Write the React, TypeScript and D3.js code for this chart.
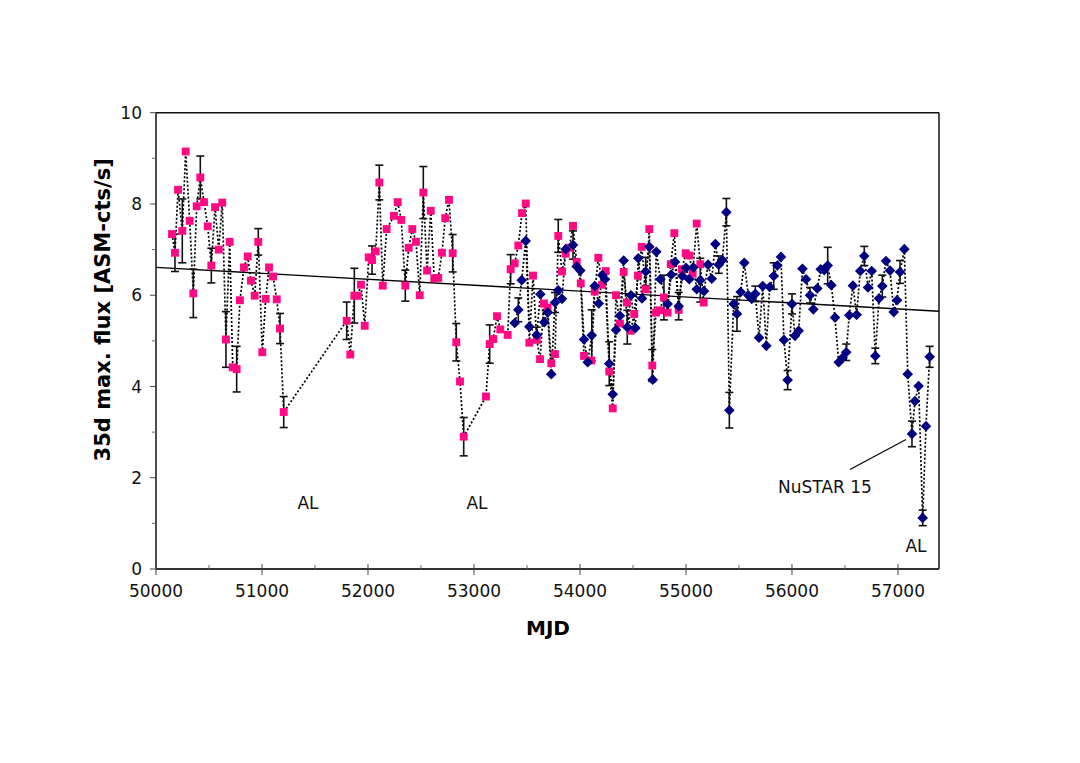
import React from "react";
import * as d3 from "d3";

// ---------- data ----------
const pinkMJD = [
  50151, 50179, 50208, 50248, 50280, 50318, 50352, 50384, 50418, 50453,
  50488, 50522, 50557, 50592, 50625, 50660, 50695, 50724, 50761, 50792,
  50830, 50865, 50896, 50931, 50965, 51003, 51035, 51066, 51104, 51139,
  51170, 51205, 51799, 51833, 51871, 51903, 51934, 51969, 52007, 52038,
  52073, 52107, 52139, 52176, 52245, 52280, 52314, 52352, 52384, 52418,
  52453, 52488, 52522, 52557, 52592, 52625, 52663, 52698, 52729, 52764,
  52799, 52833, 52868, 52903, 53113, 53148, 53182, 53217, 53248, 53318,
  53346, 53384, 53418, 53453, 53488, 53522, 53557, 53592, 53623, 53660,
  53695, 53729, 53764, 53795, 53830, 53865, 53899, 53934, 53969, 54007,
  54038, 54107, 54139, 54173, 54208, 54243, 54276, 54309, 54340, 54377,
  54412, 54443, 54478, 54512, 54547, 54582, 54620, 54654, 54682, 54717,
  54752, 54792, 54827, 54856, 54890, 54931, 54962, 54997, 55031, 55063,
  55101, 55135, 55167,
];
const pinkFlux = [
  7.34, 6.93, 8.31, 7.41, 9.15, 7.63, 6.04, 7.95, 8.58, 8.04,
  7.51, 6.65, 7.93, 7.0, 8.03, 5.03, 7.17, 4.42, 4.38, 5.89,
  6.61, 6.85, 6.32, 5.99, 7.17, 4.75, 5.92, 6.61, 6.41, 5.91,
  5.27, 3.44, 5.44, 4.7, 5.99, 5.99, 6.23, 5.33, 6.83, 6.77,
  6.96, 8.47, 6.21, 7.45, 7.74, 8.04, 7.65, 6.21, 7.04, 7.45,
  7.17, 6.0, 8.25, 6.54, 7.85, 6.37, 6.38, 6.93, 7.69, 8.09,
  6.92, 4.97, 4.11, 2.9, 3.78, 4.93, 5.04, 5.54, 5.25, 5.13,
  6.57, 6.7, 7.09, 7.8, 8.01, 4.96, 6.43, 5.03, 4.6, 5.82,
  5.73, 4.51, 4.71, 7.3, 6.52, 6.91, 7.04, 7.52, 6.73, 6.26,
  4.67, 4.57, 6.08, 6.82, 6.23, 6.53, 4.33, 3.52, 6.0, 5.38,
  6.51, 5.84, 5.22, 5.59, 6.43, 7.06, 6.13, 7.45, 4.46, 5.62,
  5.67, 5.95, 5.62, 6.68, 7.36, 5.68, 6.57, 6.92, 6.87, 6.47,
  7.57, 6.68, 5.84,
];
const pinkErr = [
  0, 0.41, 0, 0.7, 0, 0, 0.53, 0, 0.47, 0,
  0, 0.38, 0, 0, 0, 0.61, 0, 0, 0.5, 0,
  0, 0, 0, 0, 0.29, 0, 0, 0, 0, 0,
  0.33, 0.34, 0.41, 0, 0.6, 0, 0, 0, 0, 0.31,
  0, 0.38, 0, 0, 0, 0, 0, 0.34, 0, 0,
  0, 0, 0.57, 0, 0, 0, 0, 0, 0, 0,
  0.41, 0.41, 0, 0.42, 0, 0.42, 0, 0, 0, 0,
  0.32, 0, 0, 0, 0, 0, 0, 0, 0, 0,
  0, 0, 0, 0.36, 0, 0, 0, 0, 0, 0,
  0, 0, 0, 0, 0, 0, 0, 0, 0, 0,
  0, 0, 0, 0, 0, 0, 0, 0, 0.35, 0,
  0, 0.49, 0, 0, 0, 0, 0, 0, 0, 0,
  0, 0, 0,
];

const blueMJD = [
  53384, 53418, 53450, 53488, 53522, 53592, 53626, 53663, 53695, 53729,
  53764, 53795, 53830, 53865, 53934, 53969, 54003, 54038, 54073, 54111,
  54139, 54177, 54211, 54236, 54276, 54309, 54340, 54377, 54412, 54446,
  54481, 54522, 54550, 54585, 54620, 54654, 54686, 54720, 54758, 54827,
  54861, 54896, 54931, 54965, 55000, 55031, 55069, 55101, 55135, 55170,
  55208, 55243, 55277, 55309, 55343, 55381, 55409, 55450, 55481, 55516,
  55550, 55588, 55620, 55654, 55689, 55724, 55758, 55790, 55828, 55862,
  55896, 55924, 55959, 56000, 56028, 56063, 56099, 56132, 56170, 56201,
  56239, 56271, 56305, 56337, 56371, 56406, 56441, 56478, 56512, 56540,
  56575, 56610, 56644, 56682, 56717, 56752, 56786, 56821, 56852, 56887,
  56925, 56960, 56991, 57019, 57060, 57092, 57132, 57160, 57195, 57233,
  57264, 57299,
];
const blueFlux = [
  5.39, 5.68, 6.33, 7.19, 5.31, 5.13, 6.02, 5.41, 5.62, 4.27,
  5.84, 6.11, 5.92, 7.01, 7.1, 6.63, 6.54, 5.03, 4.53, 5.12,
  6.2, 5.82, 6.44, 6.35, 4.5, 3.83, 5.24, 5.55, 6.76, 5.3,
  6.0, 5.28, 6.81, 5.93, 6.52, 7.06, 4.15, 6.95, 6.35, 5.81,
  6.45, 6.73, 5.76, 6.42, 6.6, 6.35, 6.61, 6.13, 6.33, 6.09,
  6.67, 6.36, 7.12, 6.67, 6.77, 7.82, 3.48, 5.81, 5.59, 6.07,
  6.71, 6.0, 5.92, 6.03, 5.07, 6.2, 4.89, 6.18, 6.42, 6.65,
  6.84, 5.02, 4.14, 5.81, 5.11, 5.22, 6.58, 6.35, 6.0, 5.69,
  6.15, 6.57, 6.55, 6.65, 6.22, 5.51, 4.53, 4.63, 4.75, 5.56,
  6.21, 5.57, 6.53, 6.86, 6.17, 6.53, 4.67, 5.93, 6.2, 6.75,
  6.54, 5.63, 5.89, 6.51, 7.01, 4.27, 2.96, 3.68, 4.01, 1.12,
  3.13, 4.65,
];
const blueErr = [
  0, 0.26, 0, 0, 0, 0.17, 0, 0, 0, 0,
  0.22, 0, 0, 0, 0.31, 0, 0, 0, 0, 0.56,
  0, 0, 0, 0, 0.48, 0, 0, 0, 0, 0.37,
  0, 0, 0, 0, 0.31, 0, 0, 0, 0, 0,
  0, 0, 0.3, 0, 0, 0, 0, 0, 0.48, 0,
  0, 0, 0, 0.19, 0, 0.3, 0.39, 0, 0.38, 0,
  0, 0, 0, 0.17, 0, 0, 0, 0, 0.29, 0,
  0, 0, 0.21, 0.22, 0, 0, 0, 0, 0.17, 0,
  0, 0, 0, 0.4, 0, 0, 0, 0, 0.18, 0,
  0, 0, 0, 0.21, 0, 0, 0.17, 0, 0.24, 0,
  0, 0, 0, 0.25, 0, 0, 0.28, 0, 0, 0.17,
  0, 0.23,
];

// linear trend line end points
const fitMJD = [50000, 57387];
const fitFlux = [6.61, 5.65];

const xTickValues = [50000, 51000, 52000, 53000, 54000, 55000, 56000, 57000];
const xMinorValues = [50500, 51500, 52500, 53500, 54500, 55500, 56500];
const yTickValues = [0, 2, 4, 6, 8, 10];
const yMinorValues = [1, 3, 5, 7, 9];

const alLabels = [
  { mjd: 51434, flux: 1.45, text: "AL" },
  { mjd: 53028, flux: 1.45, text: "AL" },
  { mjd: 57170, flux: 0.5, text: "AL" },
];
const nustarLabel = { mjd: 56311, flux: 1.8, text: "NuSTAR 15" };
const nustarPointer = { from: [56547, 2.18], to: [57076, 2.84] };

// ---------- layout ----------
const W = 1080;
const H = 763;
const L = 156;
const R = 939;
const T = 112.7;
const B = 569;
const FONT = "'DejaVu Sans', Verdana, sans-serif";
const PINK = "#ff0a84";
const NAVY = "#000080";

export default function App() {
  const x = d3.scaleLinear().domain([50000, 57387]).range([L, R]);
  const y = d3.scaleLinear().domain([0, 10]).range([B, T]);

  const pink = pinkMJD.map((m, i) => ({ m, f: pinkFlux[i], e: pinkErr[i] }));
  const blue = blueMJD.map((m, i) => ({ m, f: blueFlux[i], e: blueErr[i] }));

  const line = d3
    .line<{ m: number; f: number }>()
    .x((d) => x(d.m))
    .y((d) => y(d.f));

  const diamond = d3.symbol().type(d3.symbolDiamond2).size(72)();
  const square = d3.symbol().type(d3.symbolSquare).size(62)();

  const errBars = (data: { m: number; f: number; e: number }[], key: string) =>
    data
      .filter((d) => d.e > 0)
      .map((d, i) => {
        const cx = x(d.m);
        const y1 = y(d.f + d.e);
        const y2 = y(d.f - d.e);
        return (
          <g key={key + i} stroke="#111" strokeWidth={1.6}>
            <line x1={cx} x2={cx} y1={y1} y2={y2} />
            <line x1={cx - 4} x2={cx + 4} y1={y1} y2={y1} />
            <line x1={cx - 4} x2={cx + 4} y1={y2} y2={y2} />
          </g>
        );
      });

  return (
    <div style={{ position: "absolute", left: 0, top: 0 }}>
      <svg width={W} height={H} style={{ display: "block", background: "#fff" }}>
        {/* trend line */}
        <line
          x1={x(fitMJD[0])}
          y1={y(fitFlux[0])}
          x2={x(fitMJD[1])}
          y2={y(fitFlux[1])}
          stroke="#000"
          strokeWidth={1.4}
        />
        {/* dotted connecting lines */}
        <path d={line(pink) || ""} fill="none" stroke="#000" strokeWidth={1.7} strokeDasharray="2 2" />
        <path d={line(blue) || ""} fill="none" stroke="#000" strokeWidth={1.7} strokeDasharray="2 2" />
        {errBars(pink, "pe")}
        {errBars(blue, "be")}
        {pink.map((d, i) => (
          <path key={"p" + i} d={square || ""} transform={`translate(${x(d.m)},${y(d.f)})`} fill={PINK} />
        ))}
        {blue.map((d, i) => (
          <path key={"b" + i} d={diamond || ""} transform={`translate(${x(d.m)},${y(d.f)})`} fill={NAVY} />
        ))}

        {/* frame */}
        <line x1={L} x2={R} y1={T} y2={T} stroke="#111" strokeWidth={1.5} />
        <line x1={R} x2={R} y1={T} y2={B} stroke="#111" strokeWidth={1.5} />
        <line x1={L} x2={L} y1={T} y2={B} stroke="#111" strokeWidth={1.5} />
        <line x1={L} x2={R} y1={B} y2={B} stroke="#333" strokeWidth={2} />

        {/* y ticks */}
        {yTickValues.map((v) => (
          <g key={"yt" + v}>
            <line x1={L - 6} x2={L} y1={y(v)} y2={y(v)} stroke="#444" strokeWidth={1} />
            <text x={L - 14} y={y(v)} dy="0.36em" textAnchor="end" fontFamily={FONT} fontSize={17} fill="#111">
              {v}
            </text>
          </g>
        ))}
        {yMinorValues.map((v) => (
          <line key={"ym" + v} x1={L - 4} x2={L} y1={y(v)} y2={y(v)} stroke="#666" strokeWidth={1} />
        ))}

        {/* x ticks */}
        {xTickValues.map((v) => (
          <g key={"xt" + v}>
            <line x1={x(v)} x2={x(v)} y1={B - 5} y2={B + 6} stroke="#444" strokeWidth={1} />
            <text x={x(v)} y={B + 22} dy="0.36em" textAnchor="middle" fontFamily={FONT} fontSize={17} fill="#111">
              {v}
            </text>
          </g>
        ))}
        {xMinorValues.map((v) => (
          <line key={"xm" + v} x1={x(v)} x2={x(v)} y1={B - 4} y2={B} stroke="#666" strokeWidth={1} />
        ))}

        {/* axis titles */}
        <text
          x={548}
          y={628}
          dy="0.36em"
          textAnchor="middle"
          fontFamily={FONT}
          fontWeight="bold"
          fontSize={20}
          fill="#000"
        >
          MJD
        </text>
        <text
          transform={`translate(102,${(T + B) / 2 - 31}) rotate(-90)`}
          dy="0.36em"
          textAnchor="middle"
          fontFamily={FONT}
          fontWeight="bold"
          fontSize={21}
          fill="#000"
        >
          35d max. flux [ASM-cts/s]
        </text>

        {/* annotations */}
        {alLabels.map((a, i) => (
          <text
            key={"al" + i}
            x={x(a.mjd)}
            y={y(a.flux)}
            dy="0.36em"
            textAnchor="middle"
            fontFamily={FONT}
            fontSize={17}
            fill="#111"
          >
            {a.text}
          </text>
        ))}
        <text
          x={x(nustarLabel.mjd)}
          y={y(nustarLabel.flux)}
          dy="0.36em"
          textAnchor="middle"
          fontFamily={FONT}
          fontSize={17}
          fill="#111"
        >
          {nustarLabel.text}
        </text>
        <line
          x1={x(nustarPointer.from[0])}
          y1={y(nustarPointer.from[1])}
          x2={x(nustarPointer.to[0])}
          y2={y(nustarPointer.to[1])}
          stroke="#000"
          strokeWidth={1.2}
        />
      </svg>
    </div>
  );
}
